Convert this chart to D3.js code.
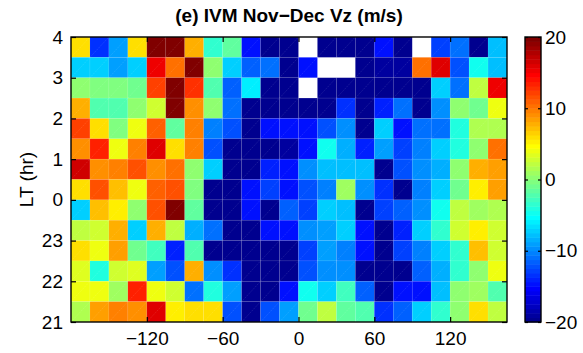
<!DOCTYPE html>
<html>
<head>
<meta charset="utf-8">
<script src="https://cdn.jsdelivr.net/npm/d3@7"></script>
<style>
  body { margin: 0; background: #fff; }
  svg text { font-family: "Liberation Sans", Arial, Helvetica, sans-serif; fill: #000; }
</style>
</head>
<body>
<div id="chart"></div>
<script>
// Datos: longitud (borde izquierdo de cada celda), hora local (inicio de cada fila)
const lonEdges = d3.range(-180, 166, 15);              // 24 bordes -> 23 celdas
const ltStarts = [27.5, 27, 26.5, 26, 25.5, 25, 24.5, 24, 23.5, 23, 22.5, 22, 21.5, 21]; // arriba -> abajo
const xTicks = [-120, -60, 0, 60, 120];
const yTicks = [21, 22, 23, 24, 25, 26, 27, 28];
const cbTicks = [-20, -10, 0, 10, 20];

// Vz (m/s), una fila por hora local, de arriba (3.5-4 LT) a abajo (21-21.5 LT); null = sin datos
const vz = [
  [6, -13.5, -9, 6, 20, 20, 7.5, -3.5, -1.5, -14.5, -20, -20, null, -20, -20, -20, -15, -20, null, -13, -11, -20, -8],
  [-7, -7, -9, -7.5, 15, 10.5, 19.5, 0, -7.5, -11.5, -11, -20, -14.5, null, null, -20, -19, -19, 10.5, 16, -12.5, -5, -8],
  [0, -0.5, -0.5, -1, 12, 19.5, 12.5, -2, -11.5, -6, -20, -20, null, -20, -20, -20, -20, -20, -20, -7.5, -11, 2, 15],
  [7.5, -2.5, -2.5, 0.5, 2.5, 19.5, 9, 0.5, -11, -20, -20, -20, -20, -20, -13.5, -20, -14, -11, -20, -9.5, 0.5, -1, 4],
  [12, 6, -0.5, 4, 11, -1.5, 9.5, -10.5, -12.5, -20, -14.5, -14.5, -14.5, -12.5, -10, -20, -7.5, -14.5, -11, -11, -4, 1.5, 1.5],
  [9, 13.5, 4, 9.5, 16, 6, 9.5, -12, -20, -20, -20, -19, -14.5, -5, -8.5, -14, -9, -13, -10.5, -7, -4, 0.5, 10.5],
  [16.5, 9, 9.5, 11.5, 9, 10.5, 0.5, -7.5, -20, -20, -14, -14.5, -10, -8, -8, -8, -20, -12, -9.5, -8.5, 0.5, 7.5, 8.5],
  [6, 11.5, 7, 4, 11, 11.5, -0.5, -20, -20, -15, -13, -15, -12, -10.5, 1, -10, -13.5, -20, -10.5, -7, -1, 5, 8.5],
  [-7, 7, 5, 0.5, 11.5, 20, -1.5, -20, -20, -15, -20, -11.5, -13, -7.5, -8, -20, -13, -11.5, -9.5, -5, 2, 1, 1.5],
  [2, 2.5, 7.5, -7.5, 7.5, 2, -8.5, -11, -20, -20, -14.5, -14.5, -10, -9, -7.5, -14.5, -20, -14, -7.5, -3.5, 3, 5, 3],
  [6, 4, 8.5, -1, -3, -14, -2, -20, -20, -20, -20, -20, -13, -9, -10.5, -14.5, -20, -13, -10.5, -7, -3.5, 7, 2.5],
  [3.5, -4, 2.5, 3.5, -9, -12.5, 7.5, -10, -13.5, -20, -20, -20, -12.5, -9.5, -10, -20, -20, -20, -11.5, -8.5, -3.5, 0, 4],
  [4, 4, 1, 13.5, 4, 2.5, -11, -4, -9, -20, -20, -15, -5, -7, -3, -11.5, -20, -15, -15, -8, 0.5, 1, -2.5],
  [1.5, 8.5, 9.5, 9, 16, 5, 6, 6, -12.5, -20, -12, -9, -1, 2, -1.5, -2.5, -13.5, -11.5, -7, -3.5, 0.5, 6, 2]
];

// Paleta jet de 64 colores (como MATLAB)
function jet64() {
  const m = 64, n = 16;
  const u = [];
  for (let i = 1; i <= n; i++) u.push(i / n);
  for (let i = 1; i < n; i++) u.push(1);
  for (let i = n; i >= 1; i--) u.push(i / n);
  const J = d3.range(m).map(() => [0, 0, 0]);
  u.forEach(function(val, k) {
    const g = Math.ceil(n / 2) + k + 1, r = g + n, b = g - n;
    if (r >= 1 && r <= m) J[r - 1][0] = val;
    if (g >= 1 && g <= m) J[g - 1][1] = val;
    if (b >= 1 && b <= m) J[b - 1][2] = val;
  });
  return J.map(c => d3.rgb(c[0] * 255, c[1] * 255, c[2] * 255).formatHex());
}
const JET = jet64();
const cmin = -20, cmax = 20;
function colorOf(v) {
  let i = Math.floor((v - cmin) / (cmax - cmin) * 64);
  return JET[Math.max(0, Math.min(63, i))];
}

const W = 583, H = 353;
const plot = {left: 71, right: 507, top: 37, bottom: 322};

const svg = d3.select('#chart').append('svg')
  .attr('width', W).attr('height', H);

const x = d3.scaleLinear().domain([-180, 165]).range([plot.left, plot.right]);
const y = d3.scaleLinear().domain([21, 28]).range([plot.bottom, plot.top]);

// Celdas
const cells = [];
vz.forEach(function(row, r) {
  row.forEach(function(v, c) {
    if (v !== null) cells.push({lon: lonEdges[c], lt: ltStarts[r], v: v});
  });
});

const gCells = svg.append('g');
gCells.selectAll('rect')
  .data(cells)
  .enter().append('rect')
    .attr('x', d => x(d.lon))
    .attr('y', d => y(d.lt + 0.5))
    .attr('width', d => x(d.lon + 15) - x(d.lon))
    .attr('height', d => y(d.lt) - y(d.lt + 0.5))
    .attr('fill', d => colorOf(d.v))
    .attr('stroke', 'rgba(255,255,255,0.1)')
    .attr('stroke-width', 0.6);

// diagonales tenues (artefacto de pcolor)
gCells.selectAll('line')
  .data(cells)
  .enter().append('line')
    .attr('x1', d => x(d.lon))
    .attr('y1', d => y(d.lt))
    .attr('x2', d => x(d.lon + 15))
    .attr('y2', d => y(d.lt + 0.5))
    .attr('stroke', 'rgba(255,255,255,0.18)')
    .attr('stroke-width', 0.6)
    .attr('stroke-dasharray', '1.5,1');

// Ejes
const fmt = d3.format('d');
const xAxis = function(g) {
  g.call(d3.axisBottom(x).tickValues(xTicks).tickSize(-5).tickPadding(10).tickFormat(fmt));
  g.select('.domain').remove();
  g.selectAll('text').attr('font-size', 19);
};
svg.append('g').attr('transform', 'translate(0,' + plot.bottom + ')').call(xAxis);
svg.append('g').attr('transform', 'translate(0,' + plot.top + ')')
  .call(d3.axisTop(x).tickValues(xTicks).tickSize(-5).tickFormat(''))
  .call(g => g.select('.domain').remove());

const yAxis = function(g) {
  g.call(d3.axisLeft(y).tickValues(yTicks).tickSize(-5).tickPadding(8).tickFormat(d => d % 24));
  g.select('.domain').remove();
  g.selectAll('text').attr('font-size', 19);
};
svg.append('g').attr('transform', 'translate(' + plot.left + ',0)').call(yAxis);
svg.append('g').attr('transform', 'translate(' + plot.right + ',0)')
  .call(d3.axisRight(y).tickValues(yTicks).tickSize(-5).tickFormat(''))
  .call(g => g.select('.domain').remove());

svg.selectAll('.tick line').attr('stroke', '#000').attr('stroke-width', 1.2);

svg.append('rect')
  .attr('x', plot.left).attr('y', plot.top)
  .attr('width', plot.right - plot.left).attr('height', plot.bottom - plot.top)
  .attr('fill', 'none').attr('stroke', '#000').attr('stroke-width', 1.4);

// Títulos
svg.append('text')
  .attr('x', (plot.left + plot.right) / 2).attr('y', 22)
  .attr('text-anchor', 'middle')
  .attr('font-size', 19).attr('font-weight', 'bold')
  .text('(e) IVM Nov\u2212Dec Vz (m/s)');

svg.append('text')
  .attr('transform', 'translate(33,' + ((plot.top + plot.bottom) / 2) + ') rotate(-90)')
  .attr('text-anchor', 'middle')
  .attr('font-size', 19)
  .text('LT (hr)');

// Barra de color
const cb = {left: 525, right: 541};
const yc = d3.scaleLinear().domain([cmin, cmax]).range([plot.bottom, plot.top]);
const step = (cmax - cmin) / 64;
svg.append('g').selectAll('rect')
  .data(d3.range(64))
  .enter().append('rect')
    .attr('x', cb.left)
    .attr('y', i => yc(cmin + (i + 1) * step))
    .attr('width', cb.right - cb.left)
    .attr('height', i => yc(cmin + i * step) - yc(cmin + (i + 1) * step) + 0.5)
    .attr('fill', i => JET[i]);

const cbAxis = svg.append('g').attr('transform', 'translate(' + cb.right + ',0)')
  .call(d3.axisRight(yc).tickValues(cbTicks).tickSize(-3).tickPadding(4).tickFormat(fmt));
cbAxis.select('.domain').remove();
cbAxis.selectAll('text').attr('font-size', 19);
svg.append('g').attr('transform', 'translate(' + cb.left + ',0)')
  .call(d3.axisLeft(yc).tickValues(cbTicks).tickSize(-3).tickFormat(''))
  .call(g => g.select('.domain').remove());
svg.selectAll('.tick line').attr('stroke', '#000').attr('stroke-width', 1.2);

svg.append('rect')
  .attr('x', cb.left).attr('y', plot.top)
  .attr('width', cb.right - cb.left).attr('height', plot.bottom - plot.top)
  .attr('fill', 'none').attr('stroke', '#000').attr('stroke-width', 1.4);
</script>
</body>
</html>
